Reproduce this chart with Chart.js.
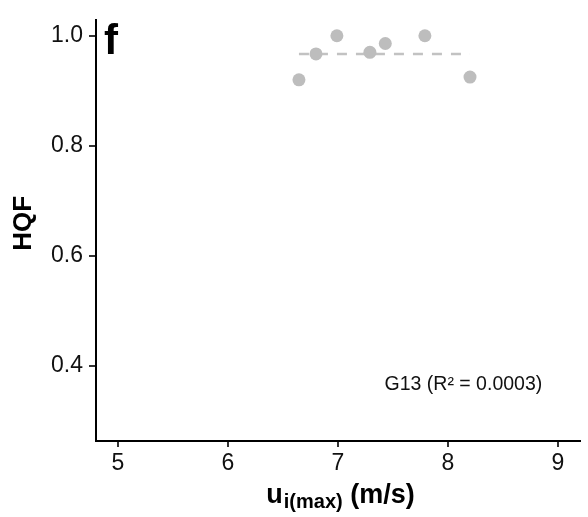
<!DOCTYPE html>
<html><head><meta charset="utf-8">
<script src="https://cdn.jsdelivr.net/npm/chart.js@4/dist/chart.umd.min.js"></script>
<style>html,body{margin:0;padding:0;background:#fff}canvas{display:block}</style>
</head><body>
<canvas id="c" width="588" height="517"></canvas>
<script>
// ---- data ----
const speedX = [6.645, 6.80, 6.99, 7.29, 7.43, 7.79, 8.20];
const hqfY   = [0.920, 0.967, 1.000, 0.970, 0.986, 1.000, 0.925];
const fitX   = [6.645, 8.20];
const fitY   = [0.967, 0.967];
const xTicks = [5, 6, 7, 8, 9];
const yTicks = [0.4, 0.6, 0.8, 1.0];
const panelLabel = 'f';
const annotationText = 'G13 (R\u00B2 = 0.0003)';
const annotationAt = [8.14, 0.367];
const yTitle = 'HQF';
const xTitleMain = 'u';
const xTitleSub = 'i(max)';
const xTitleRest = ' (m/s)';

const FONT = '"Liberation Sans", Arial, sans-serif';

const textPlugin = {
  id: 'texts',
  afterDraw(chart) {
    const ctx = chart.ctx;
    const ca = chart.chartArea;
    const xs = chart.scales.x, ys = chart.scales.y;
    ctx.save();
    ctx.fillStyle = '#000';
    // panel label
    ctx.font = 'bold 42px ' + FONT;
    ctx.textAlign = 'left';
    ctx.textBaseline = 'alphabetic';
    ctx.fillText(panelLabel, ca.left + 8, ca.top + 34);
    // annotation
    ctx.font = '19.5px ' + FONT;
    ctx.textAlign = 'center';
    ctx.textBaseline = 'middle';
    ctx.fillStyle = '#111';
    ctx.fillText(annotationText, xs.getPixelForValue(annotationAt[0]), ys.getPixelForValue(annotationAt[1]));
    // y title
    ctx.fillStyle = '#000';
    ctx.save();
    ctx.translate(24, (ca.top + ca.bottom) / 2 - 7);
    ctx.rotate(-Math.PI / 2);
    ctx.font = 'bold 26px ' + FONT;
    ctx.textAlign = 'center';
    ctx.textBaseline = 'middle';
    ctx.fillText(yTitle, 0, 0);
    ctx.restore();
    // x title with subscript
    const mainFont = 'bold 27px ' + FONT;
    const subFont = 'bold 20px ' + FONT;
    ctx.font = mainFont; const w1 = ctx.measureText(xTitleMain).width;
    const w3 = ctx.measureText(xTitleRest).width;
    ctx.font = subFont; const w2 = ctx.measureText(xTitleSub).width;
    const total = w1 + w2 + w3;
    const cx = (ca.left + ca.right) / 2 + 2;
    let x0 = cx - total / 2;
    const base = 503;
    ctx.textAlign = 'left';
    ctx.textBaseline = 'alphabetic';
    ctx.font = mainFont; ctx.fillText(xTitleMain, x0, base);
    ctx.font = subFont; ctx.fillText(xTitleSub, x0 + w1 + 1, base + 5);
    ctx.font = mainFont; ctx.fillText(xTitleRest, x0 + w1 + w2 + 1, base);
    ctx.restore();
  }
};

new Chart(document.getElementById('c'), {
  type: 'scatter',
  data: {
    datasets: [
      {
        type: 'line',
        data: fitX.map((x, i) => ({x, y: fitY[i]})),
        borderColor: '#c2c2c2',
        borderWidth: 2.5,
        borderDash: [10, 9],
        pointRadius: 0,
        fill: false,
        order: 2
      },
      {
        data: speedX.map((x, i) => ({x, y: hqfY[i]})),
        backgroundColor: '#bdbdbd',
        borderWidth: 0,
        pointRadius: 6.5,
        order: 1
      }
    ]
  },
  options: {
    responsive: false,
    animation: false,
    devicePixelRatio: 1,
    layout: { padding: { left: 0, top: 18, right: 8, bottom: 0 } },
    plugins: { legend: { display: false }, tooltip: { enabled: false } },
    scales: {
      x: {
        type: 'linear', min: 4.8, max: 9.2,
        afterFit(s) { s.height = 76; },
        afterBuildTicks(s) { s.ticks = xTicks.map(v => ({value: v})); },
        grid: { drawOnChartArea: false, drawTicks: true, tickLength: 6, color: '#333', lineWidth: 2 },
        border: { display: true, color: '#000', width: 2 },
        ticks: { color: '#111', font: { family: FONT, size: 23 }, padding: 3, callback: v => String(v) }
      },
      y: {
        type: 'linear', min: 0.264, max: 1.029,
        afterFit(s) { s.width = 96; },
        afterBuildTicks(s) { s.ticks = yTicks.map(v => ({value: v})); },
        grid: { drawOnChartArea: false, drawTicks: true, tickLength: 7, color: '#333', lineWidth: 2 },
        border: { display: true, color: '#000', width: 2 },
        ticks: { color: '#111', font: { family: FONT, size: 23 }, padding: 6, callback: v => Number(v).toFixed(1) }
      }
    }
  },
  plugins: [textPlugin]
});
</script>
</body></html>
